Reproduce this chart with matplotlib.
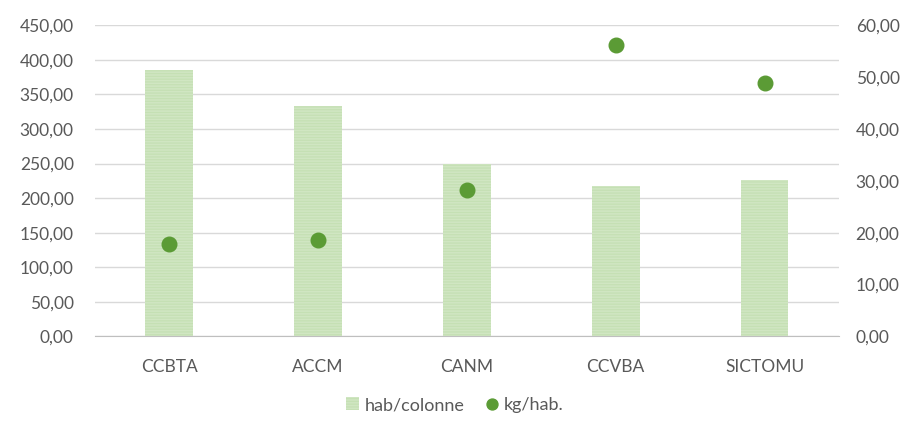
import matplotlib.pyplot as plt
import numpy as np

# données
categories = ['CCBTA', 'ACCM', 'CANM', 'CCVBA', 'SICTOMU']
hab_colonne = [386, 334, 250, 217, 226]
kg_hab = [17.9, 18.5, 28.2, 56.3, 48.8]
left_ticks = np.arange(0, 451, 50)
right_ticks = np.arange(0, 61, 10)

plt.rcParams['font.family'] = ['Lato', 'DejaVu Sans']
plt.rcParams['hatch.color'] = '#a8d08d'
plt.rcParams['hatch.linewidth'] = 0.9
txt = '#595959'

fig, ax = plt.subplots(figsize=(9.1, 4.23), dpi=100)
fig.subplots_adjust(left=0.104, right=0.922, top=0.94, bottom=0.205)

x = np.arange(len(categories))
ax.bar(x, hab_colonne, width=0.32, color='#d0e6c2', hatch='------',
       edgecolor='#c5e0b4', linewidth=0, label='hab/colonne', zorder=2)
ax.set_ylim(0, 450)
ax.set_xlim(-0.5, len(categories) - 0.5)
ax.set_yticks(left_ticks)
ax.set_yticklabels([f'{v:.2f}'.replace('.', ',') for v in left_ticks])
ax.set_xticks(x)
ax.set_xticklabels(categories)
ax.grid(axis='y', color='#d9d9d9', linewidth=1, zorder=0)
ax.set_axisbelow(True)
for s in ['top', 'left', 'right']:
    ax.spines[s].set_visible(False)
ax.spines['bottom'].set_color('#bfbfbf')
ax.tick_params(length=0, labelsize=12.5, labelcolor=txt, pad=15)
ax.tick_params(axis='x', pad=16)

ax2 = ax.twinx()
ax2.plot(x, kg_hab, 'o', color='#5b9b35', markersize=10.5, label='kg/hab.', zorder=3)
ax2.set_ylim(0, 60)
ax2.set_yticks(right_ticks)
ax2.set_yticklabels([f'{v:.2f}'.replace('.', ',') for v in right_ticks])
for s in ['top', 'left', 'right', 'bottom']:
    ax2.spines[s].set_visible(False)
ax2.tick_params(length=0, labelsize=12.5, labelcolor=txt, pad=12)

h1, l1 = ax.get_legend_handles_labels()
h2, l2 = ax2.get_legend_handles_labels()
fig.legend(h1 + h2, l1 + l2, loc='lower center', bbox_to_anchor=(0.5, -0.015),
           ncol=2, frameon=False, fontsize=13, labelcolor=txt, markerscale=0.75,
           handlelength=0.7, handletextpad=0.3, columnspacing=1.2)

fig.savefig('out.png', dpi=100)
